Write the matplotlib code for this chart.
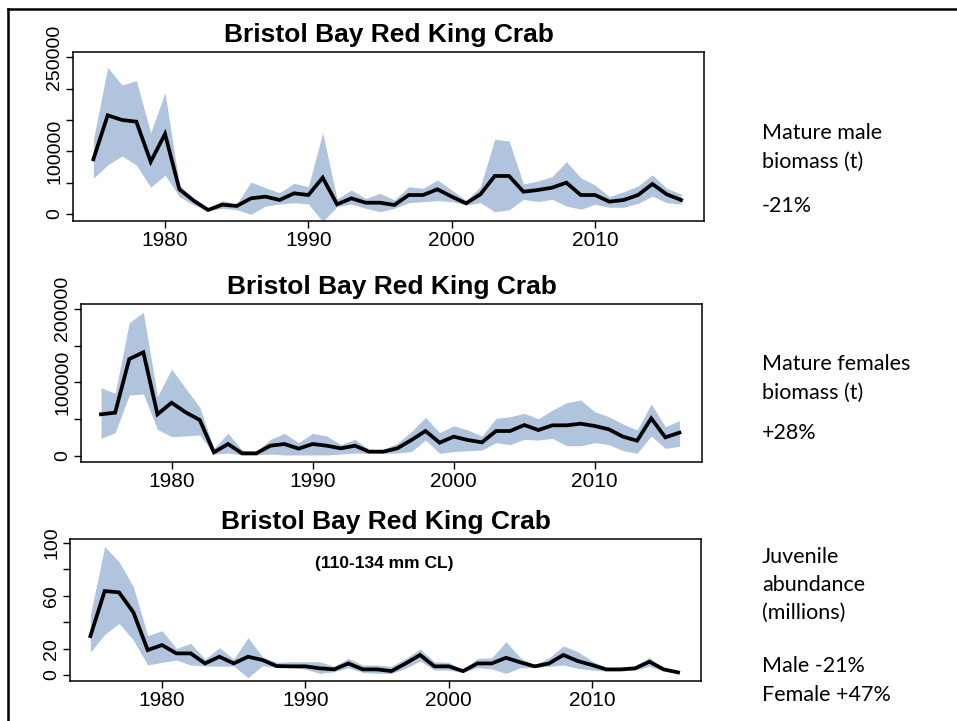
import matplotlib.pyplot as plt
from matplotlib.lines import Line2D
import numpy as np

years = np.arange(1975, 2017)

# Mature male biomass (t)
male_mid = [87400, 157600, 150100, 147400, 83500, 127800, 39400, 21300, 6400, 14900,
            12800, 25000, 27700, 22400, 33000, 30300, 58000, 15500, 25000, 18000,
            18000, 14400, 30300, 30300, 39400, 27700, 17000, 31400, 60700, 60700,
            35600, 38300, 42000, 50000, 30300, 30300, 19700, 22400, 30300, 47900,
            31400, 22400]
male_hi = [118000, 234300, 206000, 212900, 129800, 193700, 46300, 25000, 8500, 21300,
           16000, 51100, 42000, 34000, 49000, 43600, 129800, 24000, 38300, 25000,
           33000, 22400, 43600, 41000, 54300, 38300, 21300, 43600, 119300, 116600,
           47900, 52700, 59600, 83500, 58000, 46300, 27700, 35600, 44700, 62300,
           41000, 31900]
male_lo = [57000, 78300, 92600, 78300, 42600, 62300, 27700, 14400, 5300, 9100,
           6900, -500, 12800, 16000, 18000, 16000, -12300, 11700, 16000, 9100,
           3700, 9100, 18000, 19700, 21300, 19700, 14400, 18000, 3700, 6400,
           23500, 19700, 23500, 12800, 7500, 15500, 10700, 10700, 17000, 28700,
           18000, 16000]

# Mature female biomass (t)
fem_mid = [56700, 58900, 131800, 140900, 56700, 72400, 59400, 48900, 5000, 16300,
           3600, 3600, 14000, 16300, 10000, 16300, 14000, 10400, 14000, 5900,
           5900, 10400, 21700, 34000, 18100, 26300, 21700, 18600, 34000, 34000,
           42100, 35300, 41700, 41700, 43900, 40800, 36200, 26300, 20800, 51200,
           25400, 31700]
fem_hi = [92800, 85200, 181200, 195300, 80600, 118200, 92000, 66200, 10400, 30800,
          8100, 5900, 22600, 30800, 18100, 30800, 27200, 15400, 22600, 9100,
          9100, 17200, 33000, 52600, 31700, 41200, 35300, 27200, 51200, 53400,
          58000, 50700, 62500, 72400, 76100, 60200, 53400, 43500, 35300, 70700,
          39800, 48000]
fem_lo = [24000, 31700, 82900, 84300, 36200, 26300, 27200, 28500, 2700, 4100,
          1400, 1400, 2700, 1400, 1400, 1400, 1400, 2700, 4100, 3600,
          3600, 4100, 5900, 21700, 3600, 5900, 7200, 8100, 18100, 15400,
          22600, 21700, 24000, 14000, 14000, 18100, 15400, 7200, 3600, 27200,
          10400, 13100]

# Juvenile abundance (millions)
juv_mid = [29.5, 63.6, 62.6, 47.5, 18.9, 22.7, 16.4, 16.4, 8.8, 13.9,
           8.8, 13.9, 11.4, 6.8, 6.6, 6.6, 5.1, 4.3, 8.8, 4.3,
           4.3, 3.0, 8.8, 15.2, 6.6, 6.6, 3.0, 8.8, 8.8, 13.1,
           9.6, 6.6, 8.8, 15.2, 10.6, 7.6, 4.3, 4.3, 5.1, 10.1,
           4.3, 2.0]
juv_hi = [45.5, 97.2, 85.8, 66.9, 29.8, 33.6, 20.2, 24.0, 12.1, 20.7,
          12.1, 28.3, 13.9, 9.6, 10.1, 10.1, 10.1, 6.6, 12.6, 7.6,
          7.6, 6.6, 12.6, 19.7, 10.1, 9.6, 3.8, 12.6, 13.1, 25.3,
          13.1, 7.6, 13.1, 22.0, 17.7, 10.6, 5.6, 5.6, 6.6, 13.4,
          4.6, 2.5]
juv_lo = [17.2, 30.8, 39.1, 26.5, 7.6, 9.6, 11.4, 7.6, 6.8, 6.8,
          6.8, -2.0, 7.1, 5.6, 5.6, 4.6, 1.3, 2.5, 5.6, 2.0,
          1.3, 1.3, 5.1, 10.6, 3.8, 3.8, 2.0, 5.6, 4.6, 1.3,
          5.6, 5.6, 6.6, 7.6, 5.1, 3.8, 3.0, 3.0, 3.8, 6.6,
          3.0, 1.5]

x_ticks = [1980, 1990, 2000, 2010]
male_yticks = [0, 50000, 100000, 150000, 200000, 250000]
male_ylabels = ['0', '', '100000', '', '', '250000']
fem_yticks = [0, 50000, 100000, 150000, 200000]
fem_ylabels = ['0', '', '100000', '', '200000']
juv_yticks = [0, 20, 40, 60, 80, 100]
juv_ylabels = ['0', '20', '', '60', '', '100']

title = 'Bristol Bay Red King Crab'
side_texts = ['Mature male', 'biomass (t)', '-21%',
              'Mature females', 'biomass (t)', '+28%',
              'Juvenile', 'abundance', '(millions)', 'Male -21%', 'Female +47%']
side_baselines = [139, 168, 212, 370, 399, 439, 563, 591, 619, 672, 701]

W, H = 957, 721
fig = plt.figure(figsize=(W / 100, H / 100), dpi=100)
plt.rcParams['font.family'] = ['Liberation Sans', 'DejaVu Sans']

band_col = '#B0C4DE'

# (left, top, right, bottom) in pixels
boxes = [(73, 52, 704, 221), (81, 304, 702, 462), (70, 539, 701, 681)]
ylims = [(-11200, 258700), (-8150, 206600), (-4.5, 103)]
panels = [
    (male_mid, male_hi, male_lo, male_yticks, male_ylabels),
    (fem_mid, fem_hi, fem_lo, fem_yticks, fem_ylabels),
    (juv_mid, juv_hi, juv_lo, juv_yticks, juv_ylabels),
]

axes = []
for (l, t, r, b), yl, (mid, hi, lo, yt, ylab) in zip(boxes, ylims, panels):
    ax = fig.add_axes([l / W, 1 - b / H, (r - l) / W, (b - t) / H])
    ax.fill_between(years, lo, hi, color=band_col, linewidth=0)
    ax.plot(years, mid, color='black', linewidth=2.7, solid_joinstyle='miter')
    ax.set_xlim(1973.58, 2017.6)
    ax.set_ylim(*yl)
    ax.set_xticks(x_ticks)
    ax.set_xticklabels([str(v) for v in x_ticks], fontsize=15)
    ax.set_yticks(yt)
    ax.set_yticklabels(ylab, fontsize=14, rotation=90, va='center')
    ax.tick_params(direction='out', length=5, width=1, pad=2)
    for s in ax.spines.values():
        s.set_linewidth(1.1)
    ax.set_title(title, fontsize=19, fontweight='bold', pad=7)
    axes.append(ax)

axes[2].text(0.4976, 0.798, '(110-134 mm CL)', transform=axes[2].transAxes,
             ha='center', va='baseline', fontsize=12.5, fontweight='bold')

for txt, yb in zip(side_texts, side_baselines):
    fig.text(762 / W, 1 - yb / H, txt, fontsize=15.5,
             family=['Lato', 'DejaVu Sans'], va='baseline', ha='left')

# page frame (top and left edges)
fig.add_artist(Line2D([8 / W, 1], [1 - 8.5 / H, 1 - 8.5 / H], color='black',
                      linewidth=1.8, transform=fig.transFigure))
fig.add_artist(Line2D([8 / W, 8 / W], [0, 1 - 8.5 / H], color='black',
                      linewidth=1.8, transform=fig.transFigure))

fig.savefig('out.png', dpi=100)
